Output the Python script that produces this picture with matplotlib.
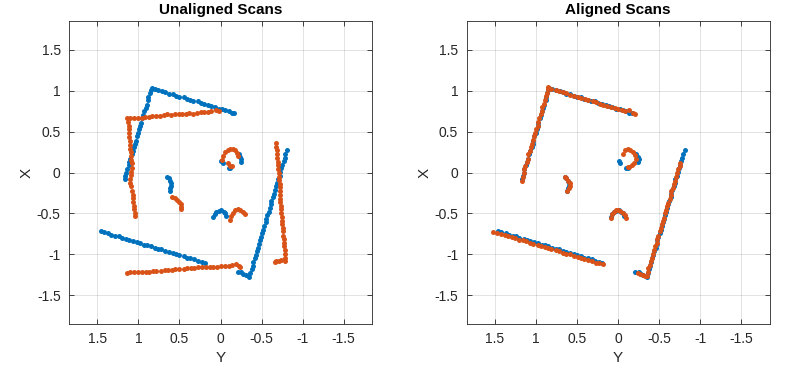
import matplotlib
matplotlib.use("Agg")
import matplotlib.pyplot as plt

plt.rcParams['font.family'] = ['Liberation Sans', 'DejaVu Sans']
plt.rcParams['axes.unicode_minus'] = False

# ---------------- data (Y = horizontal, X = vertical) ----------------
# Reference scan (blue) - identical in both panels
blue_top_y = [0.84, 0.80, 0.76, 0.71, 0.67, 0.63, 0.58, 0.54, 0.50, 0.45, 0.41, 0.37, 0.33,
              0.28, 0.24, 0.20, 0.15, 0.11, 0.07, 0.02, -0.02, -0.06, -0.10, -0.14, -0.17]
blue_top_x = [1.03, 1.02, 1.01, 0.99, 0.98, 0.96, 0.96, 0.94, 0.92, 0.92, 0.90, 0.89, 0.87,
              0.87, 0.85, 0.84, 0.82, 0.81, 0.80, 0.78, 0.78, 0.76, 0.75, 0.73, 0.73]
blue_left_y = [0.85, 0.86, 0.88, 0.88, 0.90, 0.91, 0.93, 0.94, 0.95, 0.97, 0.98, 0.99, 1.00,
               1.02, 1.03, 1.04, 1.05, 1.07, 1.08, 1.10, 1.11, 1.12, 1.14, 1.15, 1.16, 1.165]
blue_left_x = [1.01, 0.97, 0.92, 0.88, 0.83, 0.79, 0.75, 0.70, 0.66, 0.61, 0.57, 0.53, 0.48,
               0.44, 0.39, 0.35, 0.31, 0.26, 0.22, 0.17, 0.13, 0.09, 0.04, 0.00, -0.04, -0.08]
blue_bottom_y = [1.46, 1.42, 1.37, 1.33, 1.28, 1.24, 1.20, 1.15, 1.11, 1.07, 1.02, 0.98, 0.93,
                 0.89, 0.85, 0.80, 0.76, 0.72, 0.67, 0.63, 0.58, 0.54, 0.50, 0.45, 0.41, 0.37,
                 0.32, 0.28, 0.23, 0.19]
blue_bottom_x = [-0.72, -0.73, -0.74, -0.76, -0.77, -0.78, -0.80, -0.81, -0.82, -0.84, -0.85,
                 -0.86, -0.88, -0.89, -0.90, -0.92, -0.93, -0.94, -0.96, -0.97, -0.98, -1.00,
                 -1.01, -1.02, -1.04, -1.05, -1.06, -1.08, -1.09, -1.10]
blue_right_y = [-0.21, -0.25, -0.28, -0.31, -0.35, -0.36, -0.38, -0.39, -0.40, -0.42, -0.43,
                -0.44, -0.46, -0.47, -0.48, -0.49, -0.51, -0.52, -0.53, -0.55, -0.56, -0.57,
                -0.59, -0.60, -0.61, -0.62, -0.64, -0.65, -0.66, -0.68, -0.69, -0.70, -0.72,
                -0.73, -0.74, -0.75, -0.77, -0.78, -0.79, -0.81]
blue_right_x = [-1.21, -1.22, -1.24, -1.25, -1.27, -1.23, -1.18, -1.14, -1.09, -1.05, -1.01,
                -0.96, -0.92, -0.87, -0.83, -0.79, -0.74, -0.70, -0.65, -0.61, -0.57, -0.52,
                -0.48, -0.43, -0.39, -0.35, -0.30, -0.26, -0.21, -0.17, -0.13, -0.08, -0.04,
                0.01, 0.05, 0.09, 0.14, 0.18, 0.23, 0.27]
blue_small_y = [0.65, 0.63, 0.61, 0.60, 0.60, 0.61, 0.62,
                0.09, 0.07, 0.05, 0.02, -0.01, -0.04, -0.06, -0.07,
                -0.01, -0.03, -0.10, -0.12, -0.22, -0.24, -0.25, -0.245]
blue_small_x = [-0.05, -0.07, -0.10, -0.13, -0.16, -0.19, -0.22,
                -0.54, -0.51, -0.48, -0.47, -0.46, -0.48, -0.50, -0.53,
                0.14, 0.12, 0.06, 0.055, 0.22, 0.19, 0.16, 0.13]

# Second scan (orange) before alignment
orange_top_y = [1.14, 1.10, 1.05, 1.01, 0.96, 0.92, 0.87, 0.83, 0.78, 0.74, 0.69, 0.65, 0.60,
                0.56, 0.51, 0.47, 0.42, 0.38, 0.33, 0.29, 0.24, 0.20, 0.15, 0.11, 0.06, 0.02]
orange_top_x = [0.66, 0.66, 0.67, 0.67, 0.66, 0.68, 0.68, 0.69, 0.69, 0.69, 0.70, 0.71, 0.70,
                0.71, 0.72, 0.71, 0.72, 0.73, 0.72, 0.73, 0.74, 0.74, 0.74, 0.75, 0.76, 0.75]
orange_left_y = [1.13, 1.12, 1.12, 1.11, 1.11, 1.10, 1.10, 1.10, 1.09, 1.09, 1.09, 1.08, 1.08,
                 1.09, 1.09, 1.10, 1.10, 1.09, 1.08, 1.07, 1.07, 1.06, 1.05, 1.05, 1.04, 1.04]
orange_left_x = [0.62, 0.57, 0.53, 0.48, 0.43, 0.39, 0.34, 0.29, 0.25, 0.20, 0.15, 0.11, 0.06,
                 0.01, -0.03, -0.08, -0.13, -0.17, -0.22, -0.27, -0.31, -0.36, -0.41, -0.45,
                 -0.50, -0.53]
orange_bottom_y = [1.14, 1.10, 1.05, 1.01, 0.96, 0.91, 0.87, 0.82, 0.78, 0.73, 0.68, 0.64,
                   0.59, 0.55, 0.50, 0.45, 0.41, 0.36, 0.32, 0.27, 0.22, 0.18, 0.13, 0.09,
                   0.04, -0.01, -0.05, -0.10, -0.14, -0.19, -0.22, -0.235]
orange_bottom_x = [-1.23, -1.22, -1.22, -1.22, -1.21, -1.21, -1.21, -1.20, -1.20, -1.20,
                   -1.19, -1.19, -1.19, -1.18, -1.18, -1.18, -1.17, -1.17, -1.17, -1.16,
                   -1.16, -1.16, -1.15, -1.15, -1.15, -1.14, -1.14, -1.14, -1.13, -1.12,
                   -1.14, -1.16]
orange_right_y = [-0.68, -0.68, -0.69, -0.69, -0.69, -0.70, -0.70, -0.70, -0.71, -0.71, -0.71,
                  -0.72, -0.72, -0.72, -0.73, -0.73, -0.73, -0.74, -0.74, -0.74, -0.75, -0.75,
                  -0.75, -0.76, -0.76, -0.76, -0.77, -0.77, -0.77, -0.78, -0.78, -0.79, -0.79,
                  -0.74, -0.71, -0.68, -0.66]
orange_right_x = [0.36, 0.31, 0.27, 0.22, 0.18, 0.13, 0.09, 0.04, 0.00, -0.05, -0.09, -0.14,
                  -0.18, -0.23, -0.27, -0.32, -0.36, -0.41, -0.45, -0.50, -0.54, -0.59, -0.63,
                  -0.68, -0.72, -0.77, -0.81, -0.86, -0.90, -0.95, -0.99, -1.04, -1.08,
                  -1.07, -1.08, -1.08, -1.09]
orange_small_y = [0.59, 0.56, 0.53, 0.50, 0.48, 0.475, 0.48,
                  -0.11, -0.13, -0.15, -0.18, -0.21, -0.24, -0.27, -0.30,
                  -0.02, -0.03, -0.06, -0.09, -0.12, -0.15, -0.18, -0.20, -0.21,
                  -0.09, -0.12, -0.14]
orange_small_x = [-0.30, -0.31, -0.33, -0.36, -0.39, -0.42, -0.45,
                  -0.58, -0.53, -0.49, -0.46, -0.45, -0.46, -0.48, -0.51,
                  0.15, 0.20, 0.25, 0.28, 0.29, 0.285, 0.27, 0.24, 0.20,
                  0.11, 0.08, 0.075]

# Second scan (orange) after alignment
aligned_top_y = [0.85, 0.81, 0.76, 0.72, 0.67, 0.63, 0.58, 0.54, 0.49, 0.45, 0.40, 0.36, 0.31,
                 0.27, 0.22, 0.18, 0.13, 0.09, 0.04, 0.00, -0.05, -0.09, -0.14, -0.18, -0.21]
aligned_top_x = [1.04, 1.02, 1.01, 0.99, 0.98, 0.97, 0.95, 0.94, 0.92, 0.91, 0.90, 0.88, 0.87,
                 0.86, 0.84, 0.83, 0.81, 0.80, 0.79, 0.78, 0.76, 0.75, 0.76, 0.73, 0.72]
aligned_left_y = [0.85, 0.86, 0.88, 0.89, 0.90, 0.92, 0.93, 0.94, 0.96, 0.97, 0.98, 1.00, 1.01,
                  1.02, 1.03, 1.05, 1.06, 1.07, 1.09, 1.10, 1.11, 1.13, 1.14, 1.15, 1.16, 1.17]
aligned_left_x = [1.02, 0.97, 0.93, 0.88, 0.84, 0.80, 0.75, 0.71, 0.66, 0.62, 0.57, 0.53, 0.48,
                  0.44, 0.40, 0.35, 0.31, 0.26, 0.22, 0.17, 0.13, 0.08, 0.04, -0.01, -0.05, -0.10]
aligned_bottom_y = [1.52, 1.47, 1.43, 1.38, 1.34, 1.29, 1.25, 1.21, 1.16, 1.12, 1.07, 1.03,
                    0.98, 0.94, 0.89, 0.85, 0.81, 0.76, 0.72, 0.67, 0.63, 0.58, 0.54, 0.49,
                    0.45, 0.41, 0.36, 0.32, 0.27, 0.23, 0.18]
aligned_bottom_x = [-0.73, -0.74, -0.75, -0.76, -0.78, -0.79, -0.80, -0.82, -0.83, -0.84,
                    -0.86, -0.87, -0.88, -0.90, -0.91, -0.92, -0.94, -0.95, -0.96, -0.98,
                    -0.99, -1.00, -1.02, -1.03, -1.04, -1.06, -1.07, -1.08, -1.10, -1.11, -1.12]
aligned_right_y = [-0.35, -0.36, -0.37, -0.39, -0.40, -0.41, -0.43, -0.44, -0.45, -0.47, -0.48,
                   -0.49, -0.51, -0.52, -0.53, -0.55, -0.56, -0.57, -0.59, -0.60, -0.61, -0.63,
                   -0.64, -0.65, -0.67, -0.68, -0.69, -0.71, -0.72, -0.73, -0.75, -0.76,
                   -0.33, -0.30, -0.27, -0.24]
aligned_right_x = [-1.26, -1.22, -1.17, -1.13, -1.08, -1.04, -0.99, -0.95, -0.90, -0.86, -0.81,
                   -0.77, -0.72, -0.68, -0.63, -0.59, -0.55, -0.50, -0.46, -0.41, -0.37, -0.32,
                   -0.28, -0.23, -0.19, -0.14, -0.10, -0.05, -0.01, 0.04, 0.08, 0.12,
                   -1.26, -1.25, -1.24, -1.23]
aligned_small_y = [0.65, 0.63, 0.61, 0.59, 0.59, 0.60, 0.62,
                   0.09, 0.07, 0.05, 0.02, 0.00, -0.03, -0.06, -0.08, -0.10,
                   -0.06, -0.09, -0.12, -0.15, -0.18, -0.21, -0.22, -0.20, -0.17, -0.14, -0.12]
aligned_small_x = [-0.05, -0.07, -0.10, -0.13, -0.16, -0.19, -0.22,
                   -0.55, -0.51, -0.48, -0.46, -0.46, -0.47, -0.49, -0.52, -0.55,
                   0.23, 0.27, 0.285, 0.275, 0.25, 0.21, 0.17, 0.12, 0.09, 0.07, 0.065]

titles = ["Unaligned Scans", "Aligned Scans"]
ticks = [-1.5, -1, -0.5, 0, 0.5, 1, 1.5]
tick_labels = ["-1.5", "-1", "-0.5", "0", "0.5", "1", "1.5"]

BLUE = "#0072BD"
ORANGE = "#D95319"
EDGE = "#262626"

blue_y = blue_top_y + blue_left_y + blue_bottom_y + blue_right_y + blue_small_y
blue_x = blue_top_x + blue_left_x + blue_bottom_x + blue_right_x + blue_small_x
orange_y = orange_top_y + orange_left_y + orange_bottom_y + orange_right_y + orange_small_y
orange_x = orange_top_x + orange_left_x + orange_bottom_x + orange_right_x + orange_small_x
al_y = aligned_top_y + aligned_left_y + aligned_bottom_y + aligned_right_y + aligned_small_y
al_x = aligned_top_x + aligned_left_x + aligned_bottom_x + aligned_right_x + aligned_small_x

fig = plt.figure(figsize=(8.01, 3.71), dpi=100)
ax1 = fig.add_axes([69 / 801, 47 / 371, 303 / 801, 303 / 371])
ax2 = fig.add_axes([466.5 / 801, 47 / 371, 303 / 801, 303 / 371])

for ax, title, (oy, ox) in [(ax1, titles[0], (orange_y, orange_x)),
                            (ax2, titles[1], (al_y, al_x))]:
    ax.set_axisbelow(True)
    ax.grid(True, color="#262626", alpha=0.15, linewidth=0.6)
    ax.plot(blue_y, blue_x, 'o', color=BLUE, ms=3.6, mew=0, zorder=3)
    ax.plot(oy, ox, 'o', color=ORANGE, ms=3.6, mew=0, zorder=4)
    ax.set_xlim(1.845, -1.845)
    ax.set_ylim(-1.85, 1.85)
    ax.set_xticks(ticks)
    ax.set_xticklabels(tick_labels)
    ax.set_yticks(ticks)
    ax.set_yticklabels(tick_labels)
    ax.tick_params(direction='in', length=3.5, width=0.6, colors=EDGE,
                   labelsize=10, top=True, right=True, pad=6)
    for lab in ax.get_xticklabels() + ax.get_yticklabels():
        lab.set_color("#262626")
    for sp in ax.spines.values():
        sp.set_color(EDGE)
        sp.set_linewidth(0.6)
    ax.set_xlabel("Y", fontsize=11, color=EDGE, labelpad=3)
    ax.set_ylabel("X", fontsize=11, color=EDGE, labelpad=2, rotation=90)
    ax.set_title(title, fontsize=11, fontweight='bold', color='black', pad=5)

fig.savefig("out.png", dpi=100, facecolor='white')
